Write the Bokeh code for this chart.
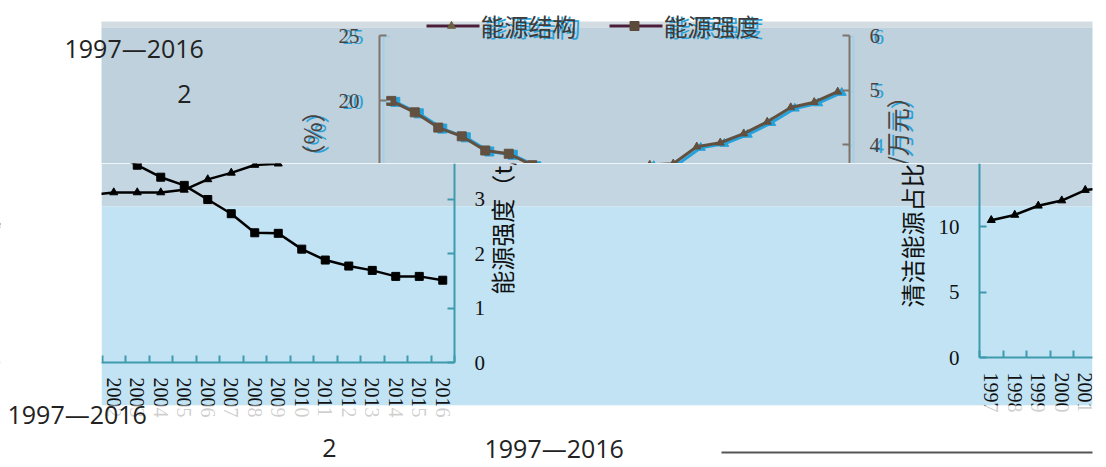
import math
from bokeh.plotting import figure
from bokeh.layouts import column
from bokeh.models import Range1d, LinearAxis, FixedTicker, NumeralTickFormatter
from bokeh.core.properties import value
from bokeh.embed import file_html
from bokeh.resources import INLINE

# ---------------- data ----------------
years = list(range(1997, 2017))
clean_share = [10.5, 10.9, 11.6, 12.0, 12.8, 13.0, 13.0, 13.0, 13.2, 14.0,
               14.5, 15.1, 15.2, 16.5, 16.8, 17.5, 18.4, 19.5, 19.9, 20.7]
intensity = [4.80, 4.59, 4.31, 4.15, 3.89, 3.83, 3.62, 3.40, 3.25, 2.99,
             2.73, 2.38, 2.37, 2.08, 1.88, 1.77, 1.69, 1.58, 1.58, 1.51]
left_ticks = [0, 5, 10, 15, 20, 25]
right_ticks = [0, 1, 2, 3, 4, 5, 6]
legend_labels = ["能源结构", "能源强度"]
left_title = "清洁能源占比（%）"
right_title = "能源强度（t/万元）"
period_text = "1997—2016"
fig_number = "2"

# ---------------- geometry / style ----------------
W = 1100
PX = 1          # page x of the canvas' left edge
STEP = 23.5
PLOT_W = STEP * len(years)
PLOT_H = 327
X0 = years[0] - 0.5
X1 = years[-1] + 0.5
SERIF = "Liberation Serif"
CJK = "Noto Sans CJK SC"
SANS = "Open Sans"

ghost = dict(line="#23A2DC", lw=3, mark="#23A2DC", tri=9, sq=9, axis="#A3CFE8", text="#2AA3DA")
dark = dict(line="#625040", lw=3, mark="#625040", tri=8, sq=9, axis="#7E746B", text="#4A423C")
crisp = dict(line="#000000", lw=2.5, mark="#000000", tri=8, sq=8, axis="#3E9BAD", text="#111111")


def make_fig(top, bottom):
    p = figure(width=W, height=bottom - top,
               x_range=Range1d(PX, PX + W), y_range=Range1d(bottom, top),
               x_axis_location=None, y_axis_location=None,
               toolbar_location=None, output_backend="svg", min_border=0,
               outline_line_color=None, background_fill_color="white",
               border_fill_color="white")
    p.grid.visible = False
    return p


def chart(p, key, L, Y0, top, bottom, st, data_level):
    sx0 = X0 - (L - PX) / STEP
    sl = PLOT_H / left_ticks[-1]
    sr = PLOT_H / right_ticks[-1]
    p.extra_x_ranges[key + "x"] = Range1d(sx0, sx0 + W / STEP)
    p.extra_y_ranges[key + "l"] = Range1d((Y0 - bottom) / sl, (Y0 - bottom) / sl + (bottom - top) / sl)
    p.extra_y_ranges[key + "r"] = Range1d((Y0 - bottom) / sr, (Y0 - bottom) / sr + (bottom - top) / sr)
    kl = dict(x_range_name=key + "x", y_range_name=key + "l", level=data_level)
    kr = dict(x_range_name=key + "x", y_range_name=key + "r", level=data_level)
    p.line(years, clean_share, line_color=st["line"], line_width=st["lw"], **kl)
    p.scatter(years, clean_share, marker="triangle", size=st["tri"],
              fill_color=st["mark"], line_color=st["mark"], **kl)
    p.line(years, intensity, line_color=st["line"], line_width=st["lw"], **kr)
    p.scatter(years, intensity, marker="square", size=st["sq"],
              fill_color=st["mark"], line_color=st["mark"], **kr)

    common = dict(x_range_name=key + "x", axis_line_color=st["axis"], axis_line_width=2,
                  major_tick_line_color=st["axis"], major_tick_line_width=2,
                  major_tick_in=7, major_tick_out=0, minor_tick_line_color=None,
                  major_label_text_font=SERIF, major_label_text_font_size="21px",
                  major_label_text_color=st["text"], major_label_standoff=20)
    ax_l = LinearAxis(y_range_name=key + "l", fixed_location=X0, bounds=(0, left_ticks[-1]),
                      ticker=FixedTicker(ticks=left_ticks), **common)
    p.add_layout(ax_l, "left")
    ax_r = LinearAxis(y_range_name=key + "r", fixed_location=X1, bounds=(0, right_ticks[-1]),
                      ticker=FixedTicker(ticks=right_ticks), **common)
    p.add_layout(ax_r, "right")
    ax_b = LinearAxis(x_range_name=key + "x", y_range_name=key + "l", fixed_location=0,
                      bounds=(X0, X1),
                      ticker=FixedTicker(ticks=years, minor_ticks=[y - 0.5 for y in years] + [X1]),
                      formatter=NumeralTickFormatter(format="0"),
                      axis_line_color=st["axis"], axis_line_width=2,
                      major_tick_line_color=None,
                      minor_tick_line_color=st["axis"], minor_tick_line_width=2,
                      minor_tick_in=7, minor_tick_out=0,
                      major_label_orientation="vertical",
                      major_label_text_font=SERIF, major_label_text_font_size="20px",
                      major_label_text_color=st["text"], major_label_standoff=9)
    p.add_layout(ax_b, "below")

    p.text(x=[L - 68], y=[Y0 - 157], text=[left_title], angle=math.pi / 2,
           text_font=value(CJK), text_font_size="24px", text_color=st["text"],
           text_align="center", text_baseline="middle", level=data_level)
    p.text(x=[L + PLOT_W + 46.5], y=[Y0 - 173], text=[right_title], angle=math.pi / 2,
           text_font=value(CJK), text_font_size="24px", text_color=st["text"],
           text_align="center", text_baseline="middle", level=data_level)


# ---------------- top strip ----------------
T_TOP, T_BOT = 0, 163
pt = make_fig(T_TOP, T_BOT)
pt.quad(left=[102], right=[1093], top=[21], bottom=[27], fill_color="#D3DCE1", line_color=None, level="image")
pt.quad(left=[102], right=[1093], top=[27], bottom=[T_BOT], fill_color="#BED1DC", line_color=None, level="image")
chart(pt, "Ag", 384, 363, T_TOP, T_BOT, ghost, "underlay")
chart(pt, "A", 380, 362, T_TOP, T_BOT, dark, "glyph")

# legend (swatches + labels)
pt.segment(x0=[427, 610], y0=[25.5, 25.5], x1=[480, 663], y1=[25.5, 25.5],
           line_color="#4A1E3A", line_width=3, level="annotation")
pt.scatter(x=[452], y=[25.5], marker="triangle", size=8, fill_color="#6B6040",
           line_color="#6B6040", level="annotation")
pt.scatter(x=[635], y=[25.5], marker="square", size=9, fill_color="#5C4A3A",
           line_color="#5C4A3A", level="annotation")
for dx, dy, col in [(4, 1, "#2AA3DA"), (0, 0, "#3D3A38")]:
    pt.text(x=[481 + dx, 664 + dx], y=[25 + dy, 25 + dy], text=legend_labels,
            text_font=value(CJK), text_font_size="24px", text_color=col,
            text_align="left", text_baseline="middle", level="annotation")

pt.text(x=[65], y=[47], text=[period_text], text_font=value(SANS), text_font_size="25px",
        text_color="#222222", text_align="left", text_baseline="middle", level="overlay")
pt.text(x=[185], y=[93], text=[fig_number], text_font=value(SANS), text_font_size="25px",
        text_color="#222222", text_align="center", text_baseline="middle", level="overlay")

# ---------------- bottom strip ----------------
B_TOP, B_BOT = 163, 459
pb = make_fig(B_TOP, B_BOT)
pb.quad(left=[102], right=[1093], top=[B_TOP], bottom=[206], fill_color="#C3D6E1", line_color=None, level="image")
pb.quad(left=[102], right=[1093], top=[206], bottom=[405], fill_color="#C1E3F4", line_color=None, level="image")
chart(pb, "B", 455 - PLOT_W, 362, B_TOP, B_BOT, crisp, "glyph")
chart(pb, "C", 980, 357, B_TOP, B_BOT, crisp, "glyph")

pb.quad(left=[PX], right=[102], top=[B_TOP], bottom=[B_BOT], fill_color="white", line_color=None, level="annotation")
pb.quad(left=[1093], right=[PX + W], top=[B_TOP], bottom=[B_BOT], fill_color="white", line_color=None, level="annotation")
pb.quad(left=[102], right=[1093], top=[405], bottom=[B_BOT], fill_color="white", fill_alpha=0.8,
        line_color=None, level="annotation")

pb.text(x=[8], y=[413], text=[period_text], text_font=value(SANS), text_font_size="25px",
        text_color="#222222", text_align="left", text_baseline="middle", level="overlay")
pb.text(x=[330], y=[447], text=[fig_number], text_font=value(SANS), text_font_size="25px",
        text_color="#222222", text_align="center", text_baseline="middle", level="overlay")
pb.text(x=[485], y=[447], text=[period_text], text_font=value(SANS), text_font_size="25px",
        text_color="#222222", text_align="left", text_baseline="middle", level="overlay")
pb.segment(x0=[722], y0=[452], x1=[1093], y1=[452], line_color="#555555", line_width=2, level="overlay")

layout = column(pt, pb, spacing=0)
open("out.html", "w").write(file_html(layout, INLINE))
